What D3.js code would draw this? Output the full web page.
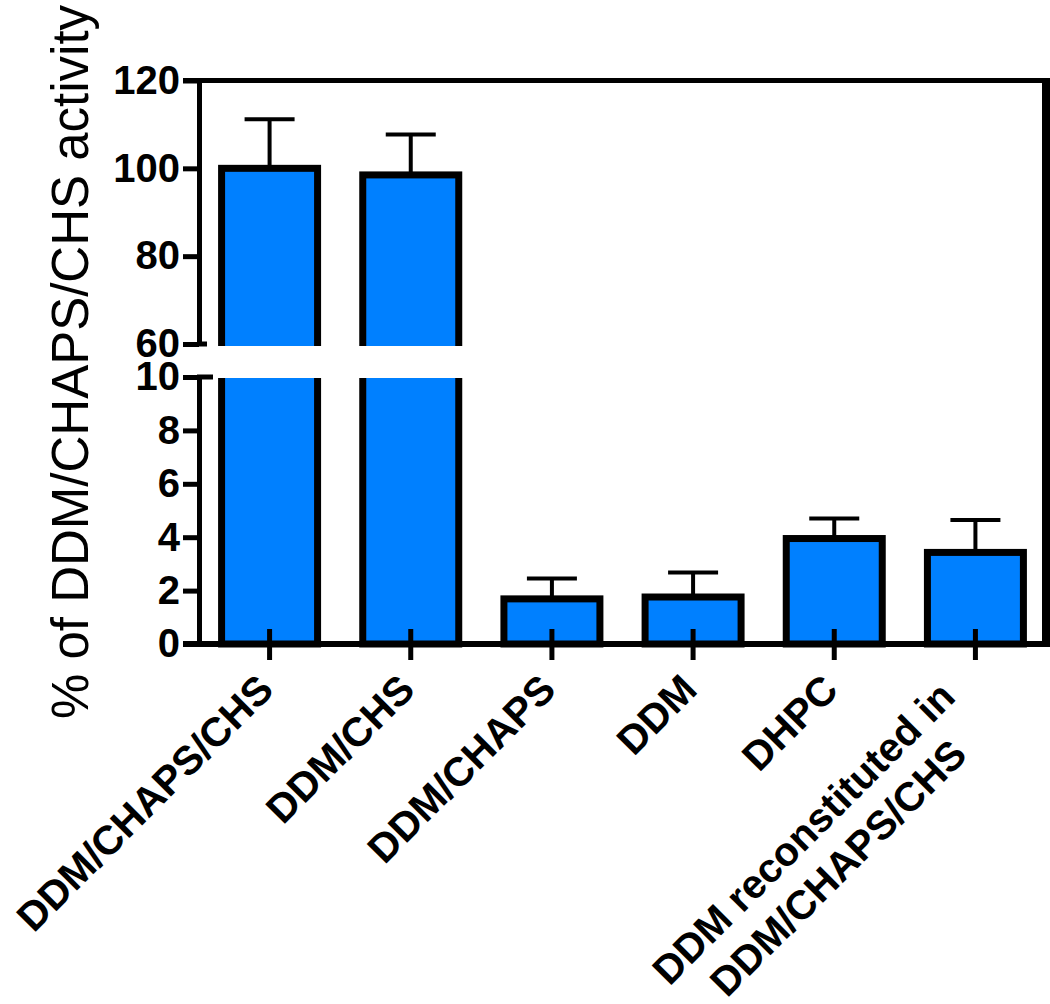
<!DOCTYPE html>
<html><head><meta charset="utf-8">
<script src="https://cdn.jsdelivr.net/npm/d3@7"></script>
<style>body{margin:0;background:#fff}svg{display:block}text{font-family:"Liberation Sans",Arial,sans-serif}</style>
</head><body><svg id="c" width="1050" height="1004"></svg>
<script>
const categories = ["DDM/CHAPS/CHS","DDM/CHS","DDM/CHAPS","DDM","DHPC","DDM reconstituted in|DDM/CHAPS/CHS"];
const means = [100, 98.5, 1.69, 1.76, 3.95, 3.43];
const upperErr = [111.2, 107.7, 2.45, 2.68, 4.70, 4.64];
const upperTicks = [60, 80, 100, 120];
const lowerTicks = [0, 2, 4, 6, 8, 10];
const yTitle = "% of DDM/CHAPS/CHS activity";

const svg = d3.select("#c");
const data = categories.map((c, i) => ({c, v: means[i], e: upperErr[i]}));

const x = d3.scaleBand().domain(categories).range([199, 1046]).paddingInner(0.32).paddingOuter(0.16);
const yU = d3.scaleLinear().domain([60, 120]).range([344, 80.5]);
const yL = d3.scaleLinear().domain([0, 10]).range([644, 377]);

const defs = svg.append("defs");
defs.append("clipPath").attr("id", "clipU").append("rect").attr("x", 0).attr("y", 0).attr("width", 1050).attr("height", 346);
defs.append("clipPath").attr("id", "clipL").append("rect").attr("x", 0).attr("y", 378).attr("width", 1050).attr("height", 626);

function drawSegment(y, clip) {
  const g = svg.append("g").attr("clip-path", `url(#${clip})`);
  g.selectAll(".err").data(data).join("line")
    .attr("x1", d => x(d.c) + x.bandwidth() / 2).attr("x2", d => x(d.c) + x.bandwidth() / 2)
    .attr("y1", d => y(d.v)).attr("y2", d => y(d.e))
    .attr("stroke", "#000").attr("stroke-width", 4);
  g.selectAll(".cap").data(data).join("line")
    .attr("x1", d => x(d.c) + x.bandwidth() / 2 - 25).attr("x2", d => x(d.c) + x.bandwidth() / 2 + 25)
    .attr("y1", d => y(d.e)).attr("y2", d => y(d.e))
    .attr("stroke", "#000").attr("stroke-width", 4);
  g.selectAll(".bar").data(data).join("rect")
    .attr("x", d => x(d.c)).attr("width", x.bandwidth())
    .attr("y", d => y(d.v)).attr("height", d => y(0) - y(d.v))
    .attr("fill", "#0080ff").attr("stroke", "#000").attr("stroke-width", 7);
}
drawSegment(yU, "clipU");
drawSegment(yL, "clipL");

function styleAxis(g) {
  g.select(".domain").attr("stroke-width", 5);
  g.selectAll(".tick line").attr("stroke-width", 5);
  g.selectAll(".tick text").attr("font-size", 40).attr("font-weight", "bold").attr("fill", "#000");
}
svg.append("g").attr("transform", "translate(199,0)")
  .call(d3.axisLeft(yU).tickValues(upperTicks).tickSize(16).tickSizeOuter(0).tickPadding(3))
  .call(styleAxis);
svg.append("g").attr("transform", "translate(199,0)")
  .call(d3.axisLeft(yL).tickValues(lowerTicks).tickSize(16).tickSizeOuter(0).tickPadding(3))
  .call(styleAxis);
svg.append("line").attr("x1", 197).attr("x2", 207).attr("y1", yU(60)).attr("y2", yU(60)).attr("stroke", "#000").attr("stroke-width", 5);
svg.append("line").attr("x1", 197).attr("x2", 213).attr("y1", yL(10)).attr("y2", yL(10)).attr("stroke", "#000").attr("stroke-width", 5);

svg.append("line").attr("x1", 183).attr("x2", 1050).attr("y1", yU(120)).attr("y2", yU(120)).attr("stroke", "#000").attr("stroke-width", 5);
svg.append("line").attr("x1", 1046).attr("x2", 1046).attr("y1", 78).attr("y2", 647).attr("stroke", "#000").attr("stroke-width", 8);

const axB = svg.append("g").attr("transform", `translate(0,${yL(0)})`)
  .call(d3.axisBottom(x).tickSize(16).tickSizeOuter(0).tickFormat(""));
axB.select(".domain").remove();
axB.selectAll(".tick line").attr("y1", -15).attr("stroke-width", 5);
svg.append("line").attr("x1", 183).attr("x2", 1050).attr("y1", yL(0)).attr("y2", yL(0)).attr("stroke", "#000").attr("stroke-width", 6);

const fs = 40.5;
categories.forEach(c => {
  const cx = x(c) + x.bandwidth() / 2;
  const lines = c.split("|");
  const g = svg.append("g").attr("transform", `translate(${cx + 6},692) rotate(-45)`);
  if (lines.length === 1) {
    g.append("text").attr("text-anchor", "end").attr("font-size", fs).attr("font-weight", "bold").text(lines[0]);
  } else {
    const t1 = g.append("text").attr("text-anchor", "middle").attr("font-size", fs).attr("font-weight", "bold").attr("y", -12).text(lines[0]);
    const w1 = t1.node().getComputedTextLength();
    const mx = -22 - w1 / 2;
    t1.attr("x", mx);
    g.append("text").attr("text-anchor", "middle").attr("font-size", fs).attr("font-weight", "bold").attr("x", mx).attr("y", 37).text(lines[1]);
  }
});

svg.append("text").attr("transform", "translate(88,362) rotate(-90)")
  .attr("text-anchor", "middle").attr("font-size", 51).attr("fill", "#000").text(yTitle);
</script></body></html>
